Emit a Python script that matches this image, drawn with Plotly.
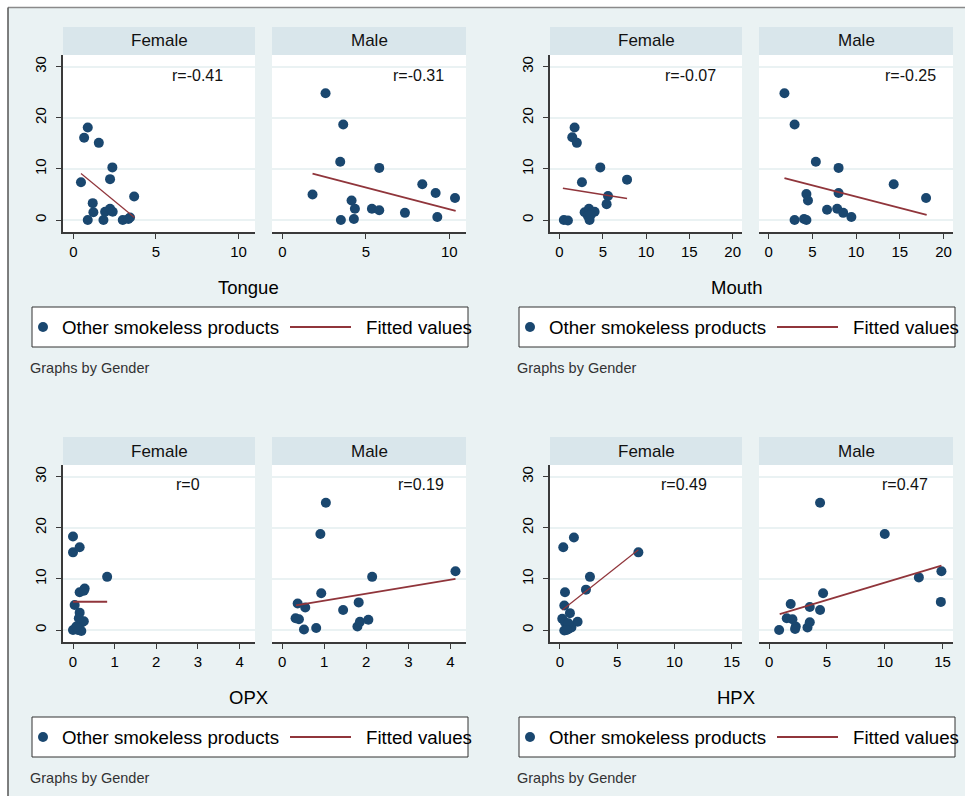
import plotly.graph_objects as go

# ---------------------------------------------------------------------------
# Data: other smokeless products (y) against site measures (x), by gender
# ---------------------------------------------------------------------------
tongue_f_x = [0.87, 0.65, 1.54, 2.36, 2.22, 0.46, 3.68, 1.17, 1.21, 0.87, 1.82, 1.92, 2.22, 2.38, 2.99, 3.33, 3.43]
tongue_f_y = [18.1, 16.1, 15.1, 10.3, 8.0, 7.4, 4.6, 3.3, 1.5, 0.0, 0.0, 1.6, 2.2, 1.6, 0.0, 0.2, 0.5]
tongue_m_x = [2.58, 3.64, 3.46, 5.8, 1.8, 4.14, 4.34, 3.5, 4.28, 5.36, 5.8, 7.34, 8.38, 9.18, 10.34, 9.28]
tongue_m_y = [24.8, 18.7, 11.4, 10.2, 5.0, 3.8, 2.2, 0.0, 0.2, 2.2, 1.9, 1.4, 7.0, 5.3, 4.3, 0.6]

mouth_f_x = [1.74, 1.47, 2.0, 4.71, 7.8, 2.59, 5.6, 5.44, 0.5, 0.97, 2.9, 3.4, 3.75, 4.05, 3.47, 3.28, 3.6]
mouth_f_y = [18.1, 16.2, 15.1, 10.3, 7.9, 7.4, 4.7, 3.1, 0.0, -0.1, 1.5, 2.2, 1.5, 1.6, 0.0, 0.8, 1.0]
mouth_m_x = [1.81, 2.97, 5.4, 8.0, 14.3, 18.0, 4.32, 4.5, 8.0, 6.68, 7.84, 8.53, 9.46, 2.97, 4.05, 4.32]
mouth_m_y = [24.8, 18.7, 11.4, 10.2, 7.0, 4.3, 5.1, 3.8, 5.3, 2.0, 2.2, 1.4, 0.6, 0.0, 0.2, 0.0]

opx_f_x = [0.0, 0.0, 0.16, 0.82, 0.28, 0.16, 0.04, 0.0, 0.16, 0.22, 0.26, 0.12, 0.2, 0.08, 0.14, 0.26]
opx_f_y = [18.3, 15.2, 16.2, 10.4, 8.1, 7.4, 4.9, 0.0, 3.4, 1.5, 1.7, 0.0, -0.2, 0.7, 2.3, 7.7]
opx_m_x = [1.04, 0.91, 2.14, 4.12, 0.93, 0.37, 0.55, 0.32, 0.4, 0.52, 0.81, 1.45, 1.82, 1.79, 1.85, 2.05]
opx_m_y = [24.9, 18.8, 10.4, 11.5, 7.2, 5.2, 4.4, 2.3, 2.1, 0.1, 0.4, 3.9, 5.4, 0.7, 1.6, 2.0]

hpx_f_x = [0.29, 1.22, 6.85, 2.62, 2.27, 0.44, 0.38, 0.87, 1.54, 0.2, 0.44, 0.38, 0.73, 1.0, 0.73, 0.58]
hpx_f_y = [16.2, 18.1, 15.2, 10.4, 7.9, 7.4, 4.8, 3.3, 1.6, 2.2, 1.5, -0.1, 0.2, 0.5, 1.3, 0.0]
hpx_m_x = [4.41, 10.0, 12.95, 14.9, 14.85, 4.67, 1.87, 3.52, 4.41, 1.53, 2.02, 2.31, 2.25, 0.87, 3.32, 3.52]
hpx_m_y = [24.9, 18.8, 10.3, 11.5, 5.5, 7.2, 5.1, 4.5, 3.9, 2.3, 2.1, 0.7, 0.2, 0.0, 0.5, 1.5]

# Linear fit endpoints (fitted values at the smallest and largest x)
tongue_f_fit_x, tongue_f_fit_y = [0.46, 3.7], [9.1, 0.5]
tongue_m_fit_x, tongue_m_fit_y = [1.8, 10.38], [9.1, 1.8]
mouth_f_fit_x, mouth_f_fit_y = [0.39, 7.8], [6.2, 4.2]
mouth_m_fit_x, mouth_m_fit_y = [1.81, 18.07], [8.2, 1.0]
opx_f_fit_x, opx_f_fit_y = [0.0, 0.82], [5.55, 5.55]
opx_m_fit_x, opx_m_fit_y = [0.33, 4.12], [4.8, 10.0]
hpx_f_fit_x, hpx_f_fit_y = [0.2, 6.85], [3.9, 15.7]
hpx_m_fit_x, hpx_m_fit_y = [0.92, 14.9], [3.1, 12.6]

r_labels = ["r=-0.41", "r=-0.31", "r=-0.07", "r=-0.25", "r=0", "r=0.19", "r=0.49", "r=0.47"]
gender_labels = ["Female", "Male"]
site_titles = ["Tongue", "Mouth", "OPX", "HPX"]
y_ticks = [0, 10, 20, 30]
x_ticks_tongue = [0, 5, 10]
x_ticks_mouth = [0, 5, 10, 15, 20]
x_ticks_opx = [0, 1, 2, 3, 4]
x_ticks_hpx = [0, 5, 10, 15]

# ---------------------------------------------------------------------------
# Styling
# ---------------------------------------------------------------------------
W, H = 965, 796
BG = "#EAF2F3"
STRIP = "#D9E6EB"
NAVY = "#1A476F"
MAROON = "#90353B"
AXIS = "#3a3a3a"
FONT = "Liberation Sans"


def fx(p):
    return p / W


def fy(p):
    return 1 - p / H


# quadrant offsets (pixels)
DX, DY = 487, 410
F_X0, F_X1 = 63, 255
M_X0, M_X1 = 272, 466
P_Y0, P_Y1 = 55, 232
S_Y0 = 27

quadrants = [
    dict(title=site_titles[0], ox=0, oy=0, rng=[-0.63, 11.0], ticks=x_ticks_tongue,
         f=(tongue_f_x, tongue_f_y, tongue_f_fit_x, tongue_f_fit_y),
         m=(tongue_m_x, tongue_m_y, tongue_m_fit_x, tongue_m_fit_y),
         r=(r_labels[0], r_labels[1]), rpos=((197, 75), (418, 75)), lw=(1.2, 1.8)),
    dict(title=site_titles[1], ox=DX, oy=0, rng=[-1.1, 21.08], ticks=x_ticks_mouth,
         f=(mouth_f_x, mouth_f_y, mouth_f_fit_x, mouth_f_fit_y),
         m=(mouth_m_x, mouth_m_y, mouth_m_fit_x, mouth_m_fit_y),
         r=(r_labels[2], r_labels[3]), rpos=((690, 76), (910, 75)), lw=(1.6, 1.8)),
    dict(title=site_titles[2], ox=0, oy=DY, rng=[-0.24, 4.37], ticks=x_ticks_opx,
         f=(opx_f_x, opx_f_y, opx_f_fit_x, opx_f_fit_y),
         m=(opx_m_x, opx_m_y, opx_m_fit_x, opx_m_fit_y),
         r=(r_labels[4], r_labels[5]), rpos=((188, 485), (421, 485)), lw=(2.0, 1.8)),
    dict(title=site_titles[3], ox=DX, oy=DY, rng=[-0.87, 15.9], ticks=x_ticks_hpx,
         f=(hpx_f_x, hpx_f_y, hpx_f_fit_x, hpx_f_fit_y),
         m=(hpx_m_x, hpx_m_y, hpx_m_fit_x, hpx_m_fit_y),
         r=(r_labels[6], r_labels[7]), rpos=((684, 485), (905, 485)), lw=(1.2, 1.8)),
]

fig = go.Figure()
layout = dict(
    width=W, height=H, autosize=False,
    margin=dict(l=0, r=0, t=0, b=0),
    paper_bgcolor=BG, plot_bgcolor="white",
    showlegend=False,
    font=dict(family=FONT, color="black"),
)
shapes = []
annotations = []

# page frame: white edge at top and left with a thin border
shapes.append(dict(type="rect", xref="paper", yref="paper", x0=0, x1=1, y0=fy(7), y1=1,
                   fillcolor="white", line=dict(width=0), layer="below"))
shapes.append(dict(type="rect", xref="paper", yref="paper", x0=0, x1=fx(8), y0=0, y1=1,
                   fillcolor="white", line=dict(width=0), layer="below"))
shapes.append(dict(type="line", xref="paper", yref="paper", x0=fx(8), x1=1, y0=fy(7.5), y1=fy(7.5),
                   line=dict(color="#8a8a8a", width=1.5)))
shapes.append(dict(type="line", xref="paper", yref="paper", x0=fx(8), x1=fx(8), y0=0, y1=fy(7.5),
                   line=dict(color="#555555", width=1.5)))

axis_n = 0
for q in quadrants:
    ox, oy = q["ox"], q["oy"]
    for gi, (gender, key) in enumerate(zip(gender_labels, ("f", "m"))):
        axis_n += 1
        xs, ys, fitx, fity = q[key]
        x0, x1 = (F_X0, F_X1) if key == "f" else (M_X0, M_X1)
        x0 += ox
        x1 += ox
        xname = "xaxis" if axis_n == 1 else f"xaxis{axis_n}"
        yname = "yaxis" if axis_n == 1 else f"yaxis{axis_n}"
        xref = "x" if axis_n == 1 else f"x{axis_n}"
        yref = "y" if axis_n == 1 else f"y{axis_n}"

        layout[xname] = dict(
            domain=[fx(x0), fx(x1)], anchor=yref, range=q["rng"],
            tickmode="array", tickvals=q["ticks"], ticks="outside", ticklen=5,
            tickwidth=1.3, tickcolor=AXIS, showline=True, linecolor=AXIS, linewidth=1.5,
            showgrid=False, zeroline=False, fixedrange=True,
            tickfont=dict(family=FONT, size=15, color="black"),
        )
        ycfg = dict(
            domain=[fy(P_Y1 + oy), fy(P_Y0 + oy)], anchor=xref, range=[-2.35, 32.3],
            tickmode="array", tickvals=y_ticks, showgrid=True, gridcolor=BG, gridwidth=2,
            zeroline=False, fixedrange=True,
        )
        if key == "f":
            ycfg.update(ticks="outside", ticklen=5, tickwidth=1.3, tickcolor=AXIS,
                        showline=True, linecolor=AXIS, linewidth=1.5, tickangle=-90,
                        tickfont=dict(family=FONT, size=15, color="black"),
                        ticklabelstandoff=4)
        else:
            ycfg.update(ticks="", showline=False, showticklabels=False)
        layout[yname] = ycfg

        fig.add_trace(go.Scatter(
            x=xs, y=ys, mode="markers", xaxis=xref, yaxis=yref,
            marker=dict(color=NAVY, size=10, line=dict(width=0)),
            hoverinfo="x+y",
        ))
        fig.add_trace(go.Scatter(
            x=fitx, y=fity, mode="lines", xaxis=xref, yaxis=yref,
            line=dict(color=MAROON, width=q["lw"][gi]), hoverinfo="skip",
        ))

        # gender strip above each panel
        shapes.append(dict(type="rect", xref="paper", yref="paper",
                           x0=fx(x0), x1=fx(x1), y0=fy(P_Y0 + oy), y1=fy(S_Y0 + oy),
                           fillcolor=STRIP, line=dict(width=0)))
        annotations.append(dict(text=gender, xref="paper", yref="paper",
                                x=fx((x0 + x1) / 2), y=fy((S_Y0 + P_Y0) / 2 + oy),
                                showarrow=False, xanchor="center", yanchor="middle",
                                font=dict(family=FONT, size=17, color="#111111")))
        # correlation label
        rx, ry = q["rpos"][gi]
        annotations.append(dict(text=q["r"][gi], xref="paper", yref="paper",
                                x=fx(rx), y=fy(ry), showarrow=False,
                                xanchor="center", yanchor="middle",
                                font=dict(family=FONT, size=16, color="#111111")))

    # x-axis title of the quadrant
    annotations.append(dict(text=q["title"], xref="paper", yref="paper",
                            x=fx(249 + ox), y=fy(287 + oy), showarrow=False,
                            xanchor="center", yanchor="middle",
                            font=dict(family=FONT, size=18.5, color="black")))

    # legend box
    lx0, lx1, ly0, ly1 = 32 + ox, 468 + ox, 307 + oy, 347 + oy
    lyc = (ly0 + ly1) / 2
    shapes.append(dict(type="rect", xref="paper", yref="paper",
                       x0=fx(lx0), x1=fx(lx1), y0=fy(ly1), y1=fy(ly0),
                       fillcolor="white", line=dict(color="#333333", width=1)))
    shapes.append(dict(type="circle", xref="paper", yref="paper",
                       x0=fx(43 + ox - 5), x1=fx(43 + ox + 5), y0=fy(lyc + 5), y1=fy(lyc - 5),
                       fillcolor=NAVY, line=dict(width=0)))
    shapes.append(dict(type="line", xref="paper", yref="paper",
                       x0=fx(290 + ox), x1=fx(351 + ox), y0=fy(lyc), y1=fy(lyc),
                       line=dict(color=MAROON, width=2)))
    annotations.append(dict(text="Other smokeless products", xref="paper", yref="paper",
                            x=fx(60 + ox), y=fy(lyc), showarrow=False,
                            xanchor="left", yanchor="middle",
                            font=dict(family=FONT, size=18.7, color="black")))
    annotations.append(dict(text="Fitted values", xref="paper", yref="paper",
                            x=fx(364 + ox), y=fy(lyc), showarrow=False,
                            xanchor="left", yanchor="middle",
                            font=dict(family=FONT, size=18.7, color="black")))
    annotations.append(dict(text="Graphs by Gender", xref="paper", yref="paper",
                            x=fx(28 + ox), y=fy(368 + oy), showarrow=False,
                            xanchor="left", yanchor="middle",
                            font=dict(family=FONT, size=14.5, color="#333333")))

layout["shapes"] = shapes
layout["annotations"] = annotations
fig.update_layout(**layout)

fig.write_html("out.html", config=dict(displayModeBar=False))
